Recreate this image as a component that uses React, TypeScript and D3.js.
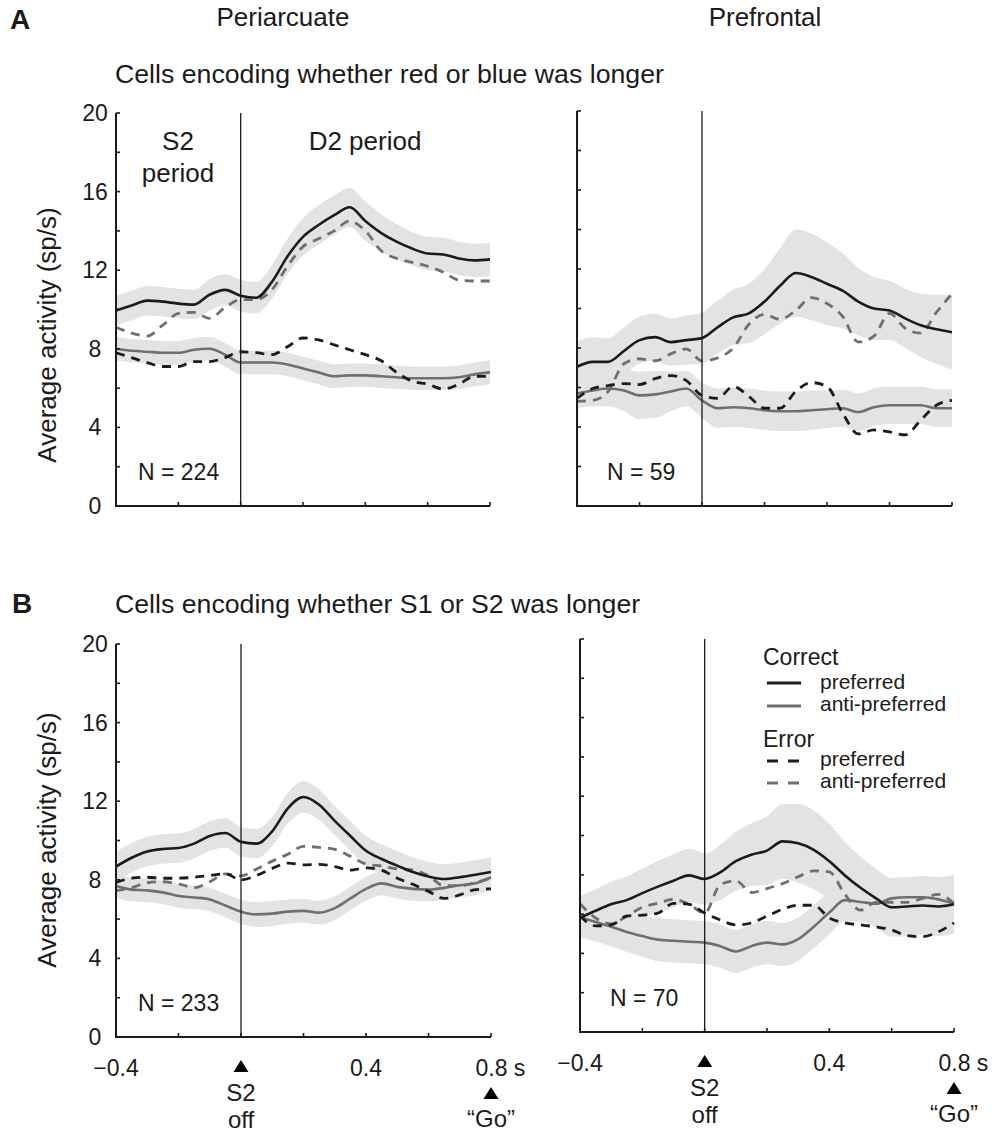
import React from "react";
import * as d3 from "d3";

// ---------- data ----------
const TIME = [-0.4, -0.35, -0.3, -0.25, -0.2, -0.15, -0.1, -0.05, 0, 0.05, 0.1, 0.15, 0.2, 0.25, 0.3, 0.35, 0.4, 0.45, 0.5, 0.55, 0.6, 0.65, 0.7, 0.75, 0.8];

// A: cells encoding whether red or blue was longer — Periarcuate
const A_PERI_CORR_PREF = [9.95, 10.2, 10.45, 10.4, 10.3, 10.25, 10.75, 11.0, 10.7, 10.6, 11.4, 12.7, 13.7, 14.3, 14.8, 15.2, 14.5, 13.9, 13.45, 13.1, 12.85, 12.8, 12.6, 12.5, 12.55];
const A_PERI_CORR_ANTI = [8.0, 7.9, 7.85, 7.8, 7.8, 7.95, 8.0, 7.7, 7.3, 7.3, 7.3, 7.2, 7.0, 6.8, 6.6, 6.65, 6.65, 6.6, 6.55, 6.5, 6.5, 6.5, 6.55, 6.7, 6.8];
const A_PERI_ERR_PREF = [7.8, 7.55, 7.3, 7.1, 7.1, 7.35, 7.35, 7.55, 7.85, 7.8, 7.7, 8.1, 8.55, 8.45, 8.2, 7.95, 7.7, 7.4, 6.8, 6.35, 6.2, 5.95, 6.2, 6.6, 6.6];
const A_PERI_ERR_ANTI = [9.1, 8.8, 8.65, 9.2, 9.8, 9.85, 9.55, 10.1, 10.5, 10.5, 11.0, 12.2, 13.2, 13.6, 14.0, 14.5, 14.0, 13.0, 12.6, 12.4, 12.2, 11.9, 11.5, 11.45, 11.45];
const A_PERI_PREF_SEM = [0.75, 0.75, 0.75, 0.75, 0.75, 0.75, 0.8, 0.8, 0.8, 0.8, 0.85, 0.9, 0.95, 1.0, 1.0, 1.0, 1.0, 0.95, 0.9, 0.85, 0.85, 0.85, 0.85, 0.85, 0.85];
const A_PERI_ANTI_SEM = [0.6, 0.6, 0.6, 0.6, 0.6, 0.6, 0.6, 0.6, 0.6, 0.6, 0.6, 0.6, 0.6, 0.6, 0.6, 0.6, 0.6, 0.6, 0.6, 0.6, 0.6, 0.6, 0.6, 0.6, 0.6];

// A: Prefrontal
const A_PFC_CORR_PREF = [7.05, 7.3, 7.3, 7.85, 8.4, 8.55, 8.3, 8.4, 8.5, 9.05, 9.55, 9.75, 10.35, 11.15, 11.8, 11.6, 11.25, 10.9, 10.35, 10.0, 9.9, 9.5, 9.15, 8.95, 8.8];
const A_PFC_CORR_ANTI = [5.7, 5.85, 5.95, 5.85, 5.6, 5.65, 5.8, 5.95, 5.35, 4.95, 5.0, 4.95, 4.85, 4.8, 4.8, 4.85, 4.9, 4.95, 4.75, 5.0, 5.1, 5.1, 5.1, 4.95, 4.95];
const A_PFC_ERR_PREF = [5.45, 5.95, 6.1, 6.2, 6.15, 6.45, 6.6, 6.35, 5.6, 5.45, 6.05, 5.55, 4.95, 4.95, 5.8, 6.25, 6.05, 4.7, 3.65, 3.85, 3.75, 3.6, 4.35, 5.1, 5.35];
const A_PFC_ERR_ANTI = [5.3, 5.35, 5.8, 7.2, 7.45, 7.35, 7.7, 7.95, 7.35, 7.5, 8.0, 9.2, 9.7, 9.45, 9.9, 10.55, 10.25, 9.6, 8.3, 8.6, 9.75, 9.0, 8.75, 9.8, 10.75];
const A_PFC_PREF_SEM = [1.3, 1.25, 1.2, 1.2, 1.2, 1.2, 1.2, 1.25, 1.3, 1.35, 1.4, 1.5, 1.65, 1.9, 2.2, 2.2, 2.1, 1.9, 1.7, 1.6, 1.5, 1.5, 1.6, 1.75, 1.9];
const A_PFC_ANTI_SEM = [0.75, 0.8, 0.9, 1.05, 1.2, 1.2, 1.0, 0.9, 0.9, 1.0, 1.0, 1.0, 1.0, 1.0, 1.0, 1.0, 0.95, 0.95, 0.95, 0.95, 0.95, 0.95, 0.95, 0.95, 0.95];

// B: cells encoding whether S1 or S2 was longer — Periarcuate
const B_PERI_CORR_PREF = [8.67, 9.12, 9.44, 9.57, 9.62, 9.84, 10.23, 10.38, 9.93, 9.84, 10.47, 11.64, 12.21, 11.82, 11.0, 10.23, 9.48, 9.06, 8.72, 8.4, 8.17, 8.04, 8.13, 8.26, 8.4];
const B_PERI_CORR_ANTI = [7.68, 7.5, 7.46, 7.36, 7.18, 7.1, 7.0, 6.69, 6.38, 6.24, 6.28, 6.38, 6.42, 6.33, 6.56, 7.05, 7.54, 7.82, 7.64, 7.54, 7.5, 7.59, 7.72, 7.82, 8.13];
const B_PERI_ERR_PREF = [7.86, 8.08, 8.13, 8.08, 8.08, 8.13, 8.22, 8.3, 8.0, 8.22, 8.58, 8.85, 8.76, 8.79, 8.67, 8.49, 8.61, 8.49, 8.08, 7.77, 7.41, 7.05, 7.23, 7.5, 7.54];
const B_PERI_ERR_ANTI = [7.45, 7.6, 7.85, 7.9, 7.8, 7.6, 7.9, 8.3, 8.2, 8.55, 8.95, 9.3, 9.7, 9.65, 9.55, 9.2, 8.8, 8.7, 8.55, 8.5, 8.2, 7.7, 7.7, 7.85, 8.1];
const B_PERI_PREF_SEM = [0.75, 0.75, 0.75, 0.75, 0.75, 0.75, 0.75, 0.75, 0.75, 0.75, 0.75, 0.78, 0.8, 0.78, 0.75, 0.75, 0.75, 0.75, 0.75, 0.75, 0.75, 0.75, 0.75, 0.75, 0.75];
const B_PERI_ANTI_SEM = [0.6, 0.6, 0.6, 0.6, 0.6, 0.6, 0.6, 0.6, 0.62, 0.64, 0.64, 0.62, 0.6, 0.6, 0.6, 0.6, 0.6, 0.6, 0.6, 0.6, 0.6, 0.6, 0.6, 0.6, 0.6];

// B: Prefrontal
const B_PFC_CORR_PREF = [5.81, 6.17, 6.5, 6.71, 7.07, 7.4, 7.7, 7.97, 7.79, 8.12, 8.69, 9.02, 9.23, 9.7, 9.6, 9.27, 8.69, 7.97, 7.34, 6.8, 6.35, 6.39, 6.44, 6.39, 6.5];
const B_PFC_CORR_ANTI = [5.85, 5.6, 5.36, 5.09, 4.88, 4.7, 4.64, 4.59, 4.55, 4.37, 4.1, 4.37, 4.55, 4.46, 4.73, 5.36, 6.08, 6.71, 6.62, 6.53, 6.8, 6.86, 6.86, 6.75, 6.53];
const B_PFC_ERR_PREF = [5.9, 5.4, 5.45, 5.9, 5.95, 6.05, 6.55, 6.5, 6.05, 5.7, 5.45, 5.55, 5.9, 6.25, 6.45, 6.45, 5.8, 5.55, 5.45, 5.35, 5.2, 4.9, 4.85, 5.1, 5.55];
const B_PFC_ERR_ANTI = [6.53, 5.8, 5.5, 5.9, 6.35, 6.55, 6.75, 6.5, 6.05, 7.5, 7.7, 7.1, 7.3, 7.55, 7.9, 8.2, 8.15, 7.0, 6.2, 6.6, 6.6, 6.6, 6.8, 7.0, 6.55];
const B_PFC_PREF_SEM = [1.1, 1.1, 1.15, 1.2, 1.25, 1.3, 1.35, 1.35, 1.3, 1.4, 1.5, 1.6, 1.75, 1.9, 2.0, 2.0, 1.9, 1.7, 1.6, 1.5, 1.5, 1.5, 1.5, 1.5, 1.5];
const B_PFC_ANTI_SEM = [1.0, 1.0, 1.0, 1.0, 1.05, 1.1, 1.1, 1.1, 1.1, 1.1, 1.1, 1.1, 1.1, 1.1, 1.1, 1.1, 1.1, 1.1, 1.0, 1.0, 1.0, 1.0, 1.0, 1.0, 1.0];

const Y_TICKS = [0, 2, 4, 6, 8, 10, 12, 14, 16, 18, 20];
const Y_LABELS = [0, 4, 8, 12, 16, 20];
const X_TICKS = [-0.4, -0.2, 0, 0.2, 0.4, 0.6, 0.8];
const X_LABELS = [
  { t: -0.4, label: "\u22120.4" },
  { t: 0.4, label: "0.4" },
  { t: 0.8, label: "0.8" },
];
const N_LABELS = ["N = 224", "N = 59", "N = 233", "N = 70"];

// ---------- styles / layout ----------
const FONT = "'Liberation Sans', Arial, Helvetica, sans-serif";
const INK = "#1b1b1b";
const GRAY = "#6f6f6f";
const BAND = "#e2e4e3";
const DASH = "9,7";

type Panel = {
  x0: number; x1: number; yTop: number; yBot: number;
  yLabels: boolean; xLabels: boolean; n: string;
  corrPref: number[]; corrAnti: number[]; errPref: number[]; errAnti: number[];
  prefSem: number[]; antiSem: number[];
};

const PANELS: Panel[] = [
  { x0: 116, x1: 490, yTop: 113, yBot: 506, yLabels: true, xLabels: false, n: N_LABELS[0],
    corrPref: A_PERI_CORR_PREF, corrAnti: A_PERI_CORR_ANTI, errPref: A_PERI_ERR_PREF, errAnti: A_PERI_ERR_ANTI,
    prefSem: A_PERI_PREF_SEM, antiSem: A_PERI_ANTI_SEM },
  { x0: 577, x1: 952, yTop: 111, yBot: 506, yLabels: false, xLabels: false, n: N_LABELS[1],
    corrPref: A_PFC_CORR_PREF, corrAnti: A_PFC_CORR_ANTI, errPref: A_PFC_ERR_PREF, errAnti: A_PFC_ERR_ANTI,
    prefSem: A_PFC_PREF_SEM, antiSem: A_PFC_ANTI_SEM },
  { x0: 116, x1: 491, yTop: 644, yBot: 1037, yLabels: true, xLabels: true, n: N_LABELS[2],
    corrPref: B_PERI_CORR_PREF, corrAnti: B_PERI_CORR_ANTI, errPref: B_PERI_ERR_PREF, errAnti: B_PERI_ERR_ANTI,
    prefSem: B_PERI_PREF_SEM, antiSem: B_PERI_ANTI_SEM },
  { x0: 580, x1: 954, yTop: 639, yBot: 1032, yLabels: false, xLabels: true, n: N_LABELS[3],
    corrPref: B_PFC_CORR_PREF, corrAnti: B_PFC_CORR_ANTI, errPref: B_PFC_ERR_PREF, errAnti: B_PFC_ERR_ANTI,
    prefSem: B_PFC_PREF_SEM, antiSem: B_PFC_ANTI_SEM },
];

function Tri({ cx, top, w, h }: { cx: number; top: number; w: number; h: number }) {
  return <path d={`M${cx},${top}L${cx + w / 2},${top + h}L${cx - w / 2},${top + h}Z`} fill="#000" />;
}

function PanelView({ p }: { p: Panel }) {
  const x = d3.scaleLinear().domain([-0.4, 0.8]).range([p.x0, p.x1]);
  const y = d3.scaleLinear().domain([0, 20]).range([p.yBot, p.yTop]);
  const curve = d3.curveMonotoneX;
  const line = (vals: number[]) =>
    d3.line<number>().x((_, i) => x(TIME[i])).y((v) => y(v)).curve(curve)(vals) || "";
  const area = (vals: number[], sem: number[]) =>
    d3.area<number>().x((_, i) => x(TIME[i])).y0((v, i) => y(v - sem[i])).y1((v, i) => y(v + sem[i])).curve(curve)(vals) || "";

  return (
    <g>
      <path d={area(p.corrPref, p.prefSem)} fill={BAND} />
      <path d={area(p.corrAnti, p.antiSem)} fill={BAND} />
      <path d={line(p.corrAnti)} fill="none" stroke={GRAY} strokeWidth={2.6} />
      <path d={line(p.errAnti)} fill="none" stroke={GRAY} strokeWidth={2.8} strokeDasharray={DASH} />
      <path d={line(p.errPref)} fill="none" stroke={INK} strokeWidth={2.8} strokeDasharray={DASH} />
      <path d={line(p.corrPref)} fill="none" stroke={INK} strokeWidth={2.6} />
      {/* S2 off line */}
      <line x1={x(0)} x2={x(0)} y1={y(20)} y2={y(0)} stroke={INK} strokeWidth={1.3} />
      {/* axes */}
      <path d={`M${p.x0},${y(20)}V${y(0)}H${p.x1}`} fill="none" stroke={INK} strokeWidth={2} />
      {Y_TICKS.map((t) => (
        <line key={"yt" + t} x1={p.x0} x2={p.x0 + 4} y1={y(t)} y2={y(t)} stroke={INK} strokeWidth={1.6} />
      ))}
      {X_TICKS.map((t) => (
        <line key={"xt" + t} x1={x(t)} x2={x(t)} y1={y(0)} y2={y(0) - 4} stroke={INK} strokeWidth={1.6} />
      ))}
      {p.yLabels &&
        Y_LABELS.map((t) => (
          <text key={"yl" + t} x={p.x0 - 21} y={y(t) + 8} textAnchor="middle" fontSize={23} fill={INK}>
            {t}
          </text>
        ))}
      {p.xLabels && (
        <g fontSize={23} fill={INK}>
          {X_LABELS.map((d) =>
            d.t === 0.8 ? (
              <text key="xl08" x={x(d.t) - 15.5} y={y(0) + 39}>
                {d.label} s
              </text>
            ) : (
              <text key={"xl" + d.t} x={x(d.t)} y={y(0) + 39} textAnchor="middle">
                {d.label}
              </text>
            )
          )}
          <Tri cx={x(0)} top={y(0) + 23} w={15} h={12} />
          <text x={x(0)} y={y(0) + 64} textAnchor="middle" fontSize={24}>S2</text>
          <text x={x(0)} y={y(0) + 91} textAnchor="middle" fontSize={24}>off</text>
          <Tri cx={x(0.8)} top={y(0) + 50} w={15} h={12} />
          <text x={x(0.8)} y={y(0) + 90} textAnchor="middle" fontSize={24}>{"\u201CGo\u201D"}</text>
        </g>
      )}
      <text x={p.x0 + (p.x0 < 300 ? 22 : 30)} y={y(0) - 26} fontSize={23} fill={INK}>
        {p.n}
      </text>
    </g>
  );
}

export default function App() {
  return (
    <svg width={998} height={1134} style={{ position: "absolute", left: 0, top: 0, background: "#fff" }} fontFamily={FONT}>
      <rect width={998} height={1134} fill="#fff" />
      {/* headings */}
      <text x={10} y={29} fontSize={28} fontWeight="bold" fill={INK}>A</text>
      <text x={283} y={26} fontSize={26} textAnchor="middle" fill={INK}>Periarcuate</text>
      <text x={765} y={26} fontSize={26} textAnchor="middle" fill={INK}>Prefrontal</text>
      <text x={115} y={83} fontSize={26.7} fill={INK}>Cells encoding whether red or blue was longer</text>
      <text x={12} y={613} fontSize={28} fontWeight="bold" fill={INK}>B</text>
      <text x={115} y={613} fontSize={26.7} fill={INK}>Cells encoding whether S1 or S2 was longer</text>

      {/* y axis labels */}
      <text transform="translate(56,335) rotate(-90)" textAnchor="middle" fontSize={26} fill={INK}>Average activity (sp/s)</text>
      <text transform="translate(56,840) rotate(-90)" textAnchor="middle" fontSize={26} fill={INK}>Average activity (sp/s)</text>

      {PANELS.map((p, i) => (
        <PanelView key={i} p={p} />
      ))}

      {/* period labels */}
      <g fontSize={26} fill={INK} textAnchor="middle">
        <text x={178} y={150}>S2</text>
        <text x={178} y={182}>period</text>
        <text x={365} y={150}>D2 period</text>
      </g>

      {/* legend */}
      <g fill={INK}>
        <text x={763} y={665} fontSize={23}>Correct</text>
        <line x1={767} x2={801} y1={683} y2={683} stroke={INK} strokeWidth={2.8} />
        <text x={820} y={689} fontSize={21}>preferred</text>
        <line x1={767} x2={801} y1={706} y2={706} stroke={GRAY} strokeWidth={2.8} />
        <text x={820} y={711} fontSize={21}>anti-preferred</text>
        <text x={763} y={747} fontSize={23}>Error</text>
        <line x1={767} x2={801} y1={761} y2={761} stroke={INK} strokeWidth={3} strokeDasharray="11,10" />
        <text x={820} y={766} fontSize={21}>preferred</text>
        <line x1={767} x2={801} y1={783} y2={783} stroke={GRAY} strokeWidth={3} strokeDasharray="11,10" />
        <text x={820} y={788} fontSize={21}>anti-preferred</text>
      </g>
    </svg>
  );
}
